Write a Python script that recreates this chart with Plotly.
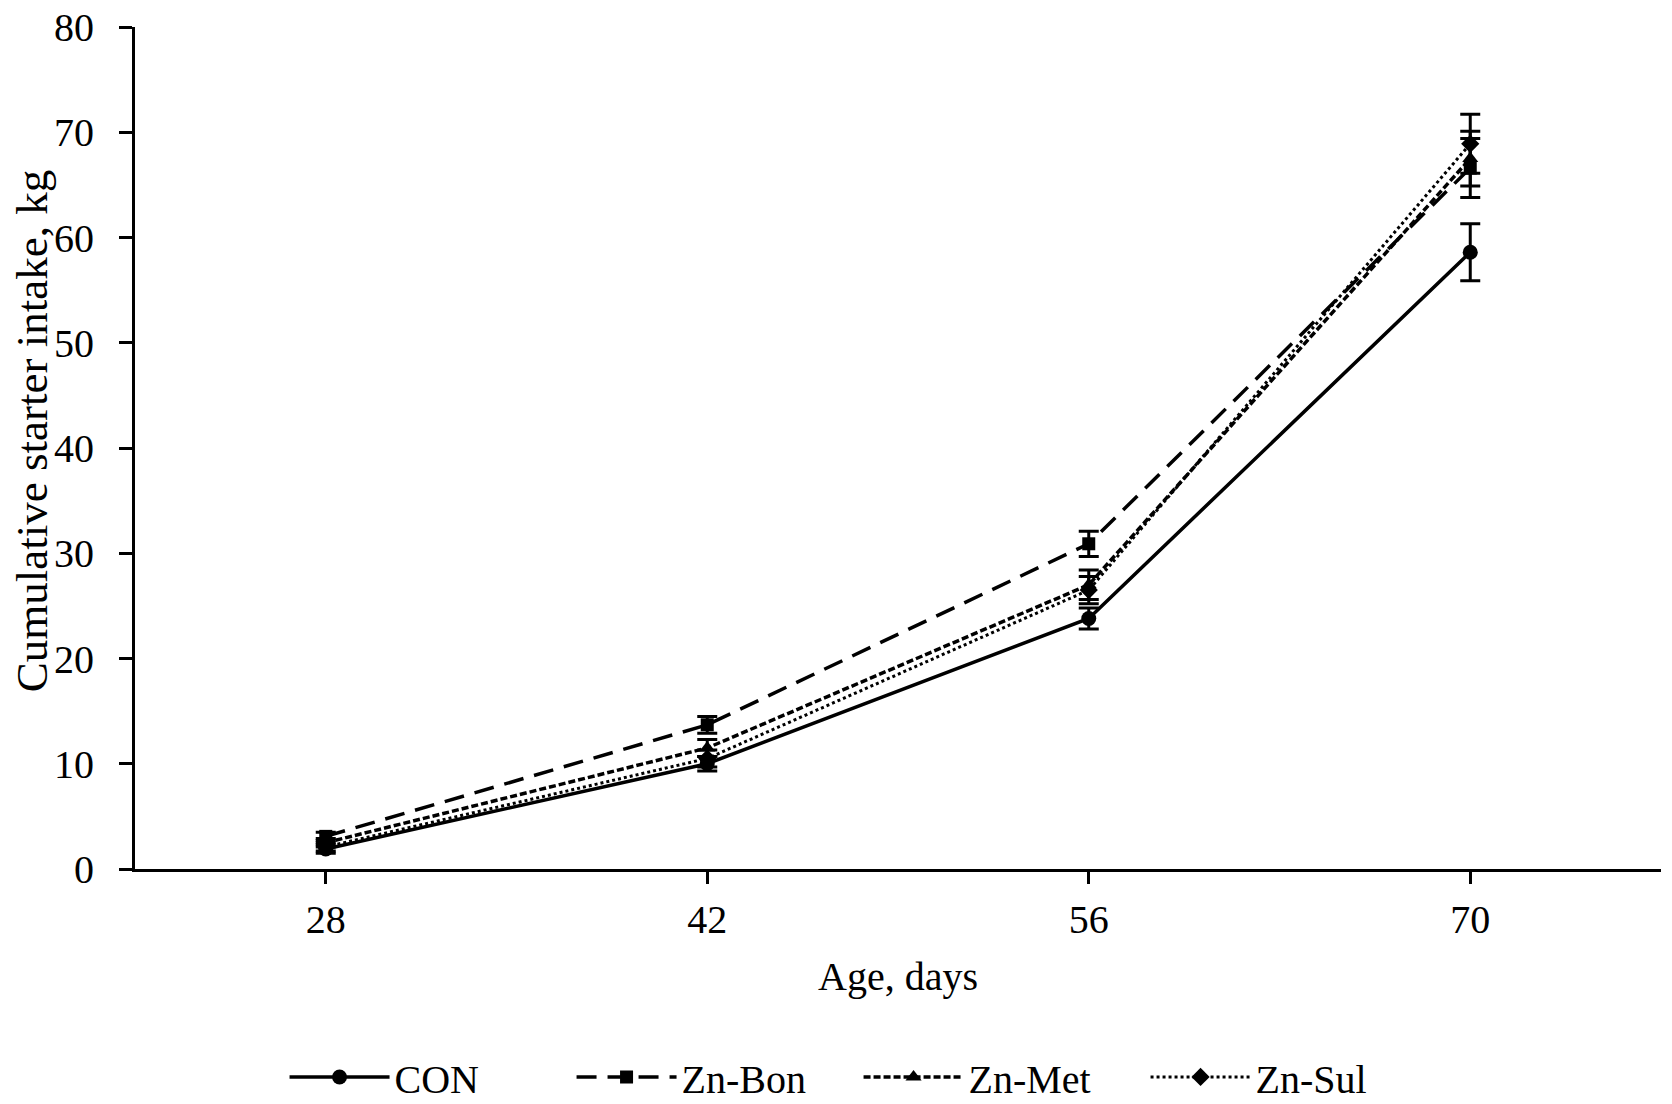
import plotly.graph_objects as go

ages = ["28", "42", "56", "70"]
series_names = ["CON", "Zn-Bon", "Zn-Met", "Zn-Sul"]
con = [1.9, 10.0, 23.8, 58.6]
con_err = [0.4, 0.7, 1.0, 2.7]
zn_bon = [3.1, 13.7, 30.9, 66.6]
zn_bon_err = [0.4, 0.8, 1.2, 2.8]
zn_met = [2.5, 11.5, 27.0, 67.5]
zn_met_err = [0.4, 0.8, 1.4, 2.6]
zn_sul = [2.1, 10.5, 26.5, 68.9]
zn_sul_err = [0.4, 0.8, 1.3, 2.8]

values = [con, zn_bon, zn_met, zn_sul]
errors = [con_err, zn_bon_err, zn_met_err, zn_sul_err]
dashes = ["solid", "20px,11px", "7px,3px", "3px,3px"]
symbols = ["circle", "square", "triangle-up", "diamond"]
msizes = [15, 13, 14, 14]
lwidths = [3.5, 3.5, 3.5, 3]

FONT = "Liberation Serif, Times New Roman, serif"
FS = 40

fig = go.Figure()
xs = list(range(len(ages)))
for name, v, e, d, s, ms, lw in zip(series_names, values, errors, dashes, symbols, msizes, lwidths):
    fig.add_trace(go.Scatter(
        x=xs, y=v, name=name, mode="lines+markers",
        line=dict(color="black", width=lw, dash=d),
        marker=dict(symbol=s, size=ms, color="black"),
        error_y=dict(type="data", array=e, visible=True, color="black", thickness=3, width=10),
    ))

fig.update_layout(
    width=1664, height=1096,
    paper_bgcolor="white", plot_bgcolor="white",
    margin=dict(l=127, r=11, t=19, b=235, autoexpand=False),
    font=dict(family=FONT, size=FS, color="black"),
    showlegend=True,
    legend=dict(orientation="h", x=0.098, xanchor="left", y=-0.247, yanchor="middle",
                font=dict(family=FONT, size=FS, color="black"),
                itemwidth=100, entrywidth=172, entrywidthmode="pixels",
                bgcolor="rgba(0,0,0,0)"),
    xaxis=dict(
        tickmode="array", tickvals=xs, ticktext=ages,
        range=[-0.5, 3.5],
        showline=True, linecolor="black", linewidth=3,
        ticks="outside", ticklen=12, tickwidth=3, tickcolor="black",
        showgrid=False, zeroline=False,
        tickfont=dict(family=FONT, size=FS, color="black"),
        ticklabelstandoff=1,
        title=dict(text="Age, days", font=dict(family=FONT, size=FS, color="black"), standoff=21),
    ),
    yaxis=dict(
        range=[0, 80], tickmode="linear", tick0=0, dtick=10,
        showline=True, linecolor="black", linewidth=3,
        ticks="outside", ticklen=13, tickwidth=3, tickcolor="black",
        showgrid=False, zeroline=False,
        tickfont=dict(family=FONT, size=FS, color="black"),
        ticklabelstandoff=17, ticklabeloverflow="allow",
    ),
    annotations=[dict(
        text="Cumulative starter intake, kg", textangle=-90,
        xref="paper", yref="paper", x=-0.0675, y=0.52,
        xanchor="center", yanchor="middle", showarrow=False,
        font=dict(family=FONT, size=45, color="black"),
    )],
)

fig.write_html("out.html")
